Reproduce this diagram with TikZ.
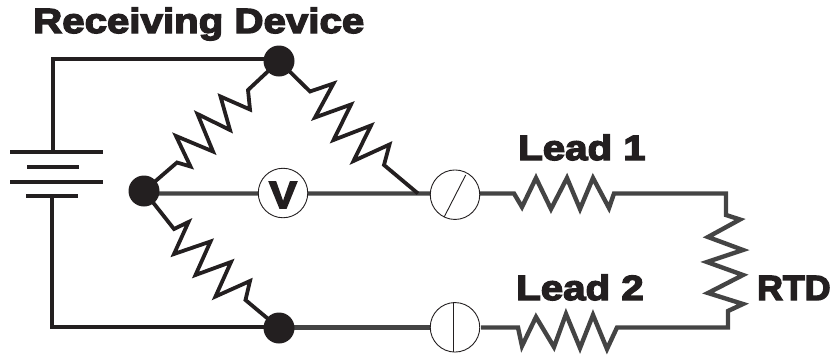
\documentclass[tikz,border=0pt]{standalone}
\usepackage{fontspec}
\newfontfamily\lab[FakeBold=4,FakeStretch=1.15]{Liberation Sans Bold}
\newfontfamily\labr[FakeBold=4,FakeStretch=1.02]{Liberation Sans Bold}
\newfontfamily\labv[FakeBold=4,FakeStretch=1.1]{Liberation Sans Bold}
\definecolor{ink}{HTML}{231F20}
\definecolor{wire}{HTML}{444444}
\tikzset{
  dark/.style={draw=ink,line width=3.8pt,miter limit=10},
  graywire/.style={draw=wire,line width=4.4pt,miter limit=10},
  plate/.style={draw=ink,line width=4pt},
  dot/.style={circle,fill=ink,draw=none,minimum size=31pt,inner sep=0pt},
  meter/.style={circle,fill=white,draw=ink,line width=0.9pt,minimum size=49.5pt,inner sep=0pt},
  lbl/.style={font=\lab\fontsize{35}{35}\selectfont,text=ink,inner sep=0pt,anchor=base west},
  thinline/.style={draw=ink,line width=0.9pt}
}
\begin{document}
\begin{tikzpicture}[x=1pt,y=-1pt]
\useasboundingbox (0,0) rectangle (833,354);
% junctions and terminals
\coordinate (ptop) at (279,61);
\coordinate (pleft) at (144,191);
\coordinate (pbot) at (279,328);
\coordinate (tee) at (418,193.5);
% gray wires
\draw[graywire] (144,193.5) -- (tee) -- (481,193.5) -- (514,193.5) -- (522,207) -- (536,178) -- (551,209) -- (567,178) -- (580,209) -- (593,178) -- (609,208) -- (614,193.5)
  -- (726,193.5) -- (726,215) -- (740,219.5) -- (708,237) -- (743,250) -- (707,262) -- (743,275) -- (708,293) -- (743,304) -- (728,311) -- (728,327.5)
  -- (617,327.5) -- (607,349) -- (593,315) -- (580,348) -- (566,314) -- (554,347) -- (536,317) -- (522,346) -- (518,327.5) -- (481,327.5);
\draw[graywire] (279,327.5) -- (430,327.5);
% black wires
\draw[dark] (279,59) -- (53,59) -- (53,152);
\draw[dark] (52,196) -- (52,327) -- (279,327);
\draw[dark] (pleft) -- (177,162.5) -- (190.5,166.5) -- (176,136) -- (213,151.5) -- (197.5,114) -- (230,130) -- (220.5,96.5) -- (250,109.5) -- (248,90) -- (ptop);
\draw[dark] (ptop) -- (310,91.5) -- (333.5,83.5) -- (315,117.5) -- (351,104.5) -- (333.5,140) -- (371,125.5) -- (353.5,161) -- (389.5,144.5) -- (384,165) -- (tee);
\draw[dark] (pleft) -- (174,229) -- (188.5,222) -- (174,254) -- (210.5,241.5) -- (195.5,275) -- (231,262) -- (215.5,296.5) -- (250,281) -- (245.5,300) -- (pbot);
% battery
\draw[plate] (10,152) -- (103,152);
\draw[plate] (27,167) -- (79,167);
\draw[plate] (10,182) -- (103,182);
\draw[plate] (26,196) -- (78,196);
% dots
\node[dot] (top) at (ptop) {};
\node[dot] (left) at (pleft) {};
\node[dot] (bot) at (pbot) {};
% meters
\node[meter] (vm) at (283,193) {};
\node[font=\labv\fontsize{38}{38}\selectfont,text=ink,inner sep=0pt] (vt) at (283,195) {V};
\node[meter] (m1) at (455,194.7) {};
\draw[thinline] (465.7,175) -- (444.3,216.7);
\node[meter] (m2) at (455,327.3) {};
\draw[thinline] (m2.north) ++(-1.7,0) -- ++(0,49.5);
% labels
\node[lbl] (rd) at (33,33) {Receiving Device};
\node[lbl] (l1) at (518,160) {Lead 1};
\node[lbl] (l2) at (516,300) {Lead 2};
\node[lbl,font=\labr\fontsize{35}{35}\selectfont] (rtd) at (757,300) {RTD};
\end{tikzpicture}
\end{document}
